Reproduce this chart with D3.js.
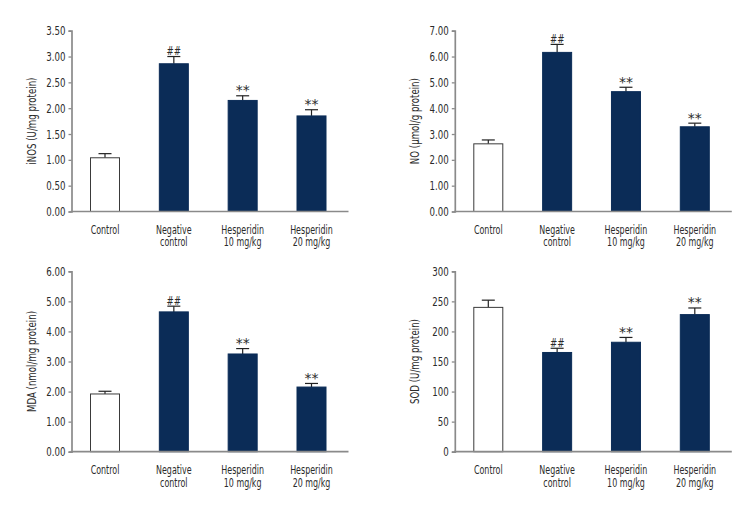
<!DOCTYPE html>
<html><head><meta charset="utf-8">
<script src="https://cdn.jsdelivr.net/npm/d3@7"></script>
<style>
html,body{margin:0;padding:0;background:#fff;}
svg{display:block;}
text{font-family:"Liberation Sans Narrow","DejaVu Sans Condensed","Roboto",sans-serif;fill:#2b2b2b;}
</style></head>
<body>
<svg id="chart" width="756" height="516"></svg>
<script>
// ---- data ----
const categories = [["Control"], ["Negative", "control"], ["Hesperidin", "10 mg/kg"], ["Hesperidin", "20 mg/kg"]];
const marks = ["", "##", "**", "**"];

const inosMean = [1.04, 2.86, 2.15, 1.85];
const inosErr  = [0.08, 0.14, 0.09, 0.12];
const inosTicks = [0, 0.5, 1, 1.5, 2, 2.5, 3, 3.5];

const noMean = [2.62, 6.16, 4.64, 3.28];
const noErr  = [0.15, 0.31, 0.17, 0.14];
const noTicks = [0, 1, 2, 3, 4, 5, 6, 7];

const mdaMean = [1.92, 4.65, 3.25, 2.15];
const mdaErr  = [0.09, 0.19, 0.18, 0.12];
const mdaTicks = [0, 1, 2, 3, 4, 5, 6];

const sodMean = [240, 165, 182, 228];
const sodErr  = [12, 7, 8, 11];
const sodTicks = [0, 50, 100, 150, 200, 250, 300];

const panels = [
  {mean: inosMean, err: inosErr, ticks: inosTicks, fmt: ".2f", label: "iNOS (U/mg protein)", ax: 71.5, top: 30.7, bottom: 211.5},
  {mean: noMean, err: noErr, ticks: noTicks, fmt: ".2f", label: "NO (μmol/g protein)", ax: 454.8, top: 30.7, bottom: 211.5},
  {mean: mdaMean, err: mdaErr, ticks: mdaTicks, fmt: ".2f", label: "MDA (nmol/mg protein)", ax: 71.5, top: 271.3, bottom: 451.7},
  {mean: sodMean, err: sodErr, ticks: sodTicks, fmt: "d", label: "SOD (U/mg protein)", ax: 454.8, top: 271.3, bottom: 451.7}
];

const svg = d3.select("#chart");
const navy = "#0b2c57";
const axisColor = "#8a8a8a";
const barW = 29;
const capW = 13;
const fs = 11.5;
const fsBig = 12.5;

panels.forEach(p => {
  const g = svg.append("g");
  const ticks = p.ticks;
  const y = d3.scaleLinear().domain([ticks[0], ticks[ticks.length - 1]]).range([p.bottom, p.top]);
  const x = d3.scalePoint().domain(d3.range(categories.length)).range([p.ax + 33.5, p.ax + 240]);

  const yAxis = d3.axisLeft(y).tickValues(ticks).tickFormat(d3.format(p.fmt)).tickSize(3).tickPadding(3);
  const ya = g.append("g").attr("transform", `translate(${p.ax},0)`).call(yAxis);
  ya.attr("font-family", null).attr("font-size", null);
  ya.select(".domain").attr("stroke", axisColor).attr("stroke-width", 1.7);
  ya.selectAll(".tick line").attr("stroke", axisColor).attr("stroke-width", 1.3);
  ya.selectAll(".tick text").attr("font-size", fsBig).attr("fill", "#2b2b2b").attr("class", "cmp");

  categories.forEach((c, i) => {
    const cx = x(i);
    const v = p.mean[i];
    const e = p.err[i];
    g.append("line").attr("x1", cx).attr("x2", cx).attr("y1", y(v)).attr("y2", y(v + e))
      .attr("stroke", "#222").attr("stroke-width", 1.2);
    g.append("line").attr("x1", cx - capW / 2).attr("x2", cx + capW / 2).attr("y1", y(v + e)).attr("y2", y(v + e))
      .attr("stroke", "#222").attr("stroke-width", 1.2);
    g.append("rect")
      .attr("x", cx - barW / 2).attr("width", barW)
      .attr("y", y(v)).attr("height", y(0) - y(v))
      .attr("fill", i === 0 ? "#ffffff" : navy)
      .attr("stroke", i === 0 ? "#3a3a3a" : navy)
      .attr("stroke-width", 1);
    if (marks[i] === "##") {
      g.append("text").attr("x", cx).attr("y", y(v + e) - 1.5)
        .attr("text-anchor", "middle").attr("font-size", fsBig).attr("class", "cmp").text(marks[i]);
    } else if (marks[i]) {
      g.append("text").attr("x", cx).attr("y", y(v + e) - 0.5)
        .attr("text-anchor", "middle").attr("font-size", 14)
        .style("font-family", '"DejaVu Sans",sans-serif').attr("fill", "#333").text(marks[i]);
    }
    const t = g.append("text").attr("x", cx).attr("y", p.bottom + 22).attr("text-anchor", "middle").attr("font-size", fs);
    c.forEach((line, k) => {
      t.append("tspan").attr("x", cx).attr("dy", k === 0 ? 0 : 12.9).attr("class", "cmp").text(line);
    });
  });

  g.append("line").attr("x1", p.ax - 0.8).attr("x2", p.ax + 277).attr("y1", p.bottom).attr("y2", p.bottom)
    .attr("stroke", axisColor).attr("stroke-width", 1.7);

  const my = (p.top + p.bottom) / 2;
  g.append("text").attr("transform", `translate(${p.ax - 36},${my}) rotate(-90)`)
    .attr("text-anchor", "middle").attr("font-size", fsBig).attr("class", "cmp").text(p.label);
});

// condense text horizontally to mimic the narrow reference typeface
const probe = svg.append("text").attr("font-size", fs).text("Hesperidin");
const factor = Math.min(1, 42.7 / probe.node().getComputedTextLength());
probe.remove();
svg.selectAll(".cmp").each(function () {
  const L = this.getComputedTextLength();
  d3.select(this).attr("textLength", L * factor).attr("lengthAdjust", "spacingAndGlyphs");
});
</script>
</body></html>
